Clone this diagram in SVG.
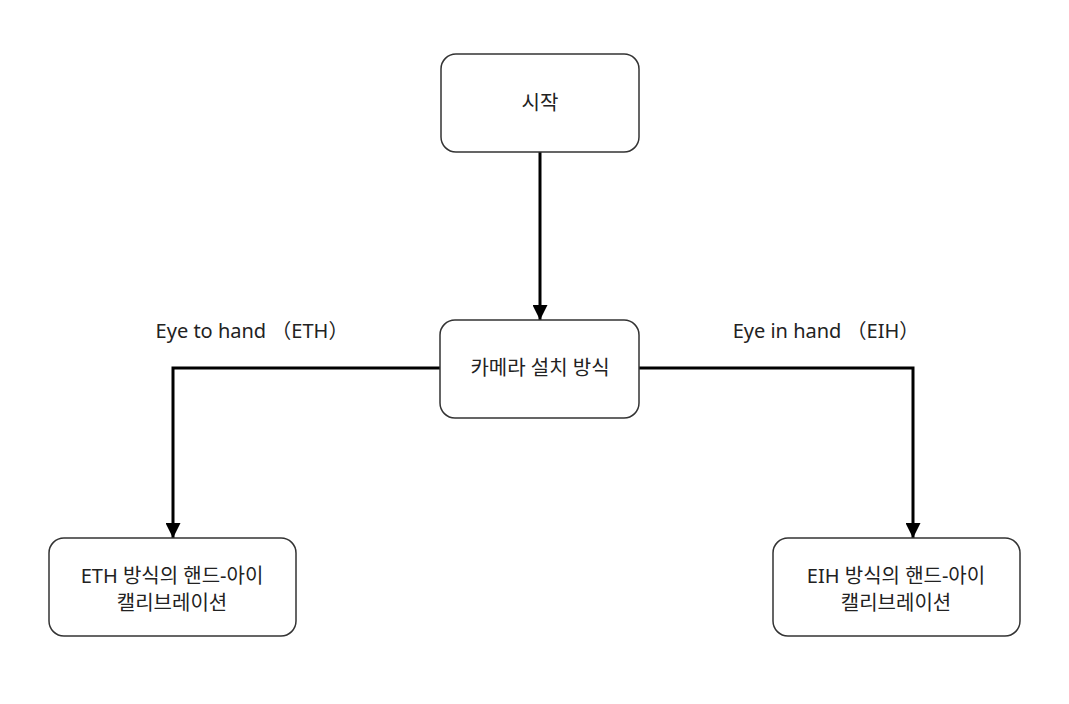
<svg xmlns="http://www.w3.org/2000/svg" width="1069" height="704" viewBox="0 0 1069 704">
<defs>
<marker id="arr" viewBox="0 0 10 10" refX="10" refY="5" markerWidth="5" markerHeight="5" markerUnits="strokeWidth" orient="auto">
<path d="M0,0 L10,5 L0,10 Z" fill="#000"/>
</marker>
</defs>
<style>
.node rect{fill:#fff;stroke:#333;stroke-width:1.5}
text{font-family:"Noto Sans","Noto Sans CJK KR",sans-serif;font-size:20px;fill:#222;text-anchor:middle}
.edge{fill:none;stroke:#000;stroke-width:3;marker-end:url(#arr)}
</style>
<rect width="1069" height="704" fill="#fff"/>
<g id="connectors">
<path class="edge" d="M540,152 L540,320"/>
<path class="edge" d="M440,368 L173,368 L173,538"/>
<path class="edge" d="M639,368 L913,368 L913,538"/>
<text x="252" y="338">Eye to hand （ETH）</text>
<text x="826" y="338">Eye in hand （EIH）</text>
</g>
<g id="start" class="node">
<rect x="441" y="54" width="198" height="98" rx="15"/>
<text x="540" y="110">시작</text>
</g>
<g id="camera" class="node">
<rect x="440" y="320" width="199" height="98" rx="15"/>
<text x="540" y="375">카메라 설치 방식</text>
</g>
<g id="eth" class="node">
<rect x="49" y="538" width="247" height="98" rx="15"/>
<text x="172" y="583">ETH 방식의 핸드-아이</text>
<text x="172" y="610">캘리브레이션</text>
</g>
<g id="eih" class="node">
<rect x="773" y="538" width="247" height="98" rx="15"/>
<text x="896" y="583">EIH 방식의 핸드-아이</text>
<text x="896" y="610">캘리브레이션</text>
</g>
</svg>
